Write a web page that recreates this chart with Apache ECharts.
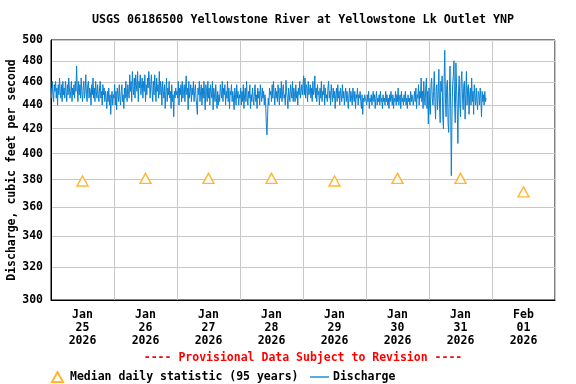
<!DOCTYPE html>
<html>
<head>
<meta charset="utf-8">
<script src="https://cdn.jsdelivr.net/npm/echarts@6/dist/echarts.min.js"></script>
<style>html,body{margin:0;padding:0;background:#fff;}#c{width:576px;height:384px;}</style>
</head>
<body>
<div id="c"></div>
<script>
const titleText = 'USGS 06186500 Yellowstone River at Yellowstone Lk Outlet YNP';
const yAxisTitle = 'Discharge, cubic feet per second';
const provisionalText = '---- Provisional Data Subject to Revision ----';
const xLabels = ['Jan\n25\n2026','Jan\n26\n2026','Jan\n27\n2026','Jan\n28\n2026','Jan\n29\n2026','Jan\n30\n2026','Jan\n31\n2026','Feb\n01\n2026'];
const yTicks = [300,320,340,360,380,400,420,440,460,480,500];
const medianName = 'Median daily statistic (95 years)';
const dischargeName = 'Discharge';
// median daily statistic, one per day (plotted at noon)
const medianValues = [379,381,381,381,379,381,381,371];
// discharge, 15-minute readings starting Jan 25 00:00
const dischargeJan25 = [
  455,446,461,449,443,458,452,461,446,455,440,458,
  449,464,452,446,458,443,461,449,455,446,461,452,
  443,458,449,464,455,446,452,461,443,455,449,458,
  446,461,452,475,455,443,461,449,458,446,464,452,
  443,455,461,446,452,467,449,443,458,461,446,455,
  452,440,458,449,464,446,455,443,461,452,446,458,
  449,443,455,461,446,452,440,458,449,455,443,452,
  446,437,452,443,455,440,449,432,446,452,440,449];
const dischargeJan26 = [
  446,458,440,452,436,455,449,443,458,446,440,452,
  458,443,449,437,455,446,461,449,443,458,452,446,
  467,452,461,443,470,455,449,464,446,467,458,452,
  470,443,461,455,467,449,458,464,446,461,452,467,
  443,458,449,464,455,470,461,446,458,467,452,443,
  461,449,467,455,443,464,452,458,446,470,449,461,
  455,440,461,452,446,458,437,452,464,443,455,449,
  461,446,452,437,458,443,449,430,452,446,455,449];
const dischargeJan27 = [
  452,446,461,440,455,449,458,443,461,446,452,458,
  443,455,466,449,455,436,461,446,452,458,443,455,
  449,461,443,452,458,446,440,432,455,449,461,443,
  452,458,440,455,446,461,449,436,458,452,443,461,
  446,455,440,458,452,446,461,436,455,449,443,458,
  446,437,452,440,449,443,458,452,446,461,443,455,
  449,458,440,452,446,461,443,455,437,452,449,458,
  443,452,446,436,455,449,440,458,446,452,440,449];
const dischargeJan28 = [
  446,455,440,452,443,458,437,449,455,443,461,446,
  440,452,446,458,437,449,443,455,446,440,452,458,
  443,449,437,455,446,452,440,458,449,443,455,446,
  452,440,449,443,425,415,430,446,440,455,449,452,
  443,458,446,461,449,440,455,446,452,443,458,449,
  440,455,446,461,443,452,458,446,449,440,462,452,
  446,437,455,449,443,458,452,446,461,443,455,449,
  443,458,446,452,440,455,449,461,446,452,458,449];
const dischargeJan29 = [
  458,466,449,464,446,458,455,443,461,449,452,458,
  446,455,443,461,449,452,466,446,455,443,458,449,
  452,440,455,446,461,443,452,449,458,440,455,446,
  449,443,455,461,446,452,440,458,449,443,455,446,
  452,437,449,455,443,458,446,452,440,455,449,443,
  458,446,452,440,449,455,443,452,446,437,449,455,
  443,452,446,440,455,449,443,452,437,449,446,455,
  440,449,446,452,443,437,449,432,446,443,449,446];
const dischargeJan30 = [
  446,440,449,443,452,437,446,443,449,440,446,452,
  443,449,437,446,452,440,446,443,449,440,452,443,
  446,437,449,443,446,440,452,443,449,440,446,437,
  449,443,452,446,440,449,437,446,443,452,440,449,
  443,455,440,446,449,437,452,443,446,440,449,443,
  452,440,446,437,449,443,446,440,452,443,449,446,
  440,446,452,443,455,437,449,446,458,440,452,446,
  464,443,452,437,461,446,440,455,464,437,452,424];
const dischargeJan31 = [
  455,440,432,458,464,446,440,452,470,443,428,455,
  458,436,449,472,440,425,461,452,466,430,420,461,
  490,446,430,458,462,425,417,452,475,440,383,430,
  458,466,480,440,425,478,455,436,408,452,466,440,
  430,461,470,446,436,458,461,428,449,470,440,455,
  458,432,449,455,440,464,443,452,432,458,446,440,
  455,443,436,452,449,440,455,446,430,452,443,449,
  440,452,443,446];
const dischargeValues = [].concat(dischargeJan25, dischargeJan26, dischargeJan27, dischargeJan28, dischargeJan29, dischargeJan30, dischargeJan31);

const HOURS_PER_DAY = 24;
const STEP_HOURS = 0.25;
const FONT = 'DejaVu Sans Mono';

const dischargeData = dischargeValues.map((v, i) => [i * STEP_HOURS, v]);
const medianData = medianValues.map((v, i) => [i * HOURS_PER_DAY + 12, v]);
const labelPositions = xLabels.map((_, i) => i * HOURS_PER_DAY + 12);

const chart = echarts.init(document.getElementById('c'), null, {renderer: 'canvas'});
chart.setOption({
  animation: false,
  backgroundColor: '#fff',
  grid: {left: 51, right: 21, top: 40, bottom: 84, outerBoundsMode: 'none', containLabel: false,
         show: true, borderColor: '#000', borderWidth: 1, backgroundColor: 'transparent'},
  graphic: [
    {type: 'text', x: 303, y: 20, style: {text: titleText, font: 'bold 11.7px "DejaVu Sans Mono"', fill: '#000', align: 'center', verticalAlign: 'middle'}},
    {type: 'text', x: 303, y: 358, style: {text: provisionalText, font: 'bold 11.5px "DejaVu Sans Mono"', fill: '#ff0000', align: 'center', verticalAlign: 'middle'}}
  ],
  xAxis: {
    type: 'value', min: 0, max: xLabels.length * HOURS_PER_DAY, interval: HOURS_PER_DAY,
    axisLine: {lineStyle: {color: '#000', width: 1}},
    axisTick: {show: false},
    splitLine: {show: true, lineStyle: {color: '#c8c8c8', width: 1}},
    axisLabel: {
      customValues: labelPositions, margin: 9, lineHeight: 13,
      color: '#000', fontFamily: FONT, fontWeight: 'bold', fontSize: 11.5,
      formatter: v => xLabels[Math.round((v - 12) / HOURS_PER_DAY)]
    }
  },
  yAxis: {
    type: 'log', logBase: 10, min: yTicks[0], max: yTicks[yTicks.length - 1],
    name: yAxisTitle, nameLocation: 'middle', nameGap: 33, nameRotate: 90, nameMoveOverlap: false,
    nameTextStyle: {color: '#000', fontFamily: FONT, fontWeight: 'bold', fontSize: 11.5},
    axisLine: {show: true, lineStyle: {color: '#000', width: 1}},
    axisTick: {show: false, customValues: yTicks},
    splitLine: {show: true, lineStyle: {color: '#c8c8c8', width: 1}},
    axisLabel: {customValues: yTicks, margin: 8, color: '#000', fontFamily: FONT, fontWeight: 'bold', fontSize: 11.5, formatter: v => String(Math.round(v))}
  },
  legend: [
    {data: [{name: medianName, icon: 'triangle'}], left: 46, top: 366, itemWidth: 11, itemHeight: 10, itemGap: 8,
     textStyle: {color: '#000', fontFamily: FONT, fontWeight: 'bold', fontSize: 11.5, padding: [0,0,0,2]}},
    {data: [{name: dischargeName, icon: 'path://M0,0 H20 V1.4 H0 Z'}], left: 305, top: 366, itemWidth: 19, itemHeight: 10,
     itemStyle: {color: '#0a80d0'},
     textStyle: {color: '#000', fontFamily: FONT, fontWeight: 'bold', fontSize: 11.5, padding: [0,0,0,-1]}}
  ],
  series: [
    {name: dischargeName, type: 'line', data: dischargeData, symbol: 'none', lineStyle: {color: '#0a80d0', width: 1}, itemStyle: {color: '#0a80d0'}, z: 3},
    {name: medianName, type: 'scatter', data: medianData, symbol: 'triangle', symbolSize: [11, 10],
     itemStyle: {color: '#fff', borderColor: '#ffa500', borderWidth: 1.4}, z: 4}
  ]
});
</script>
</body>
</html>
